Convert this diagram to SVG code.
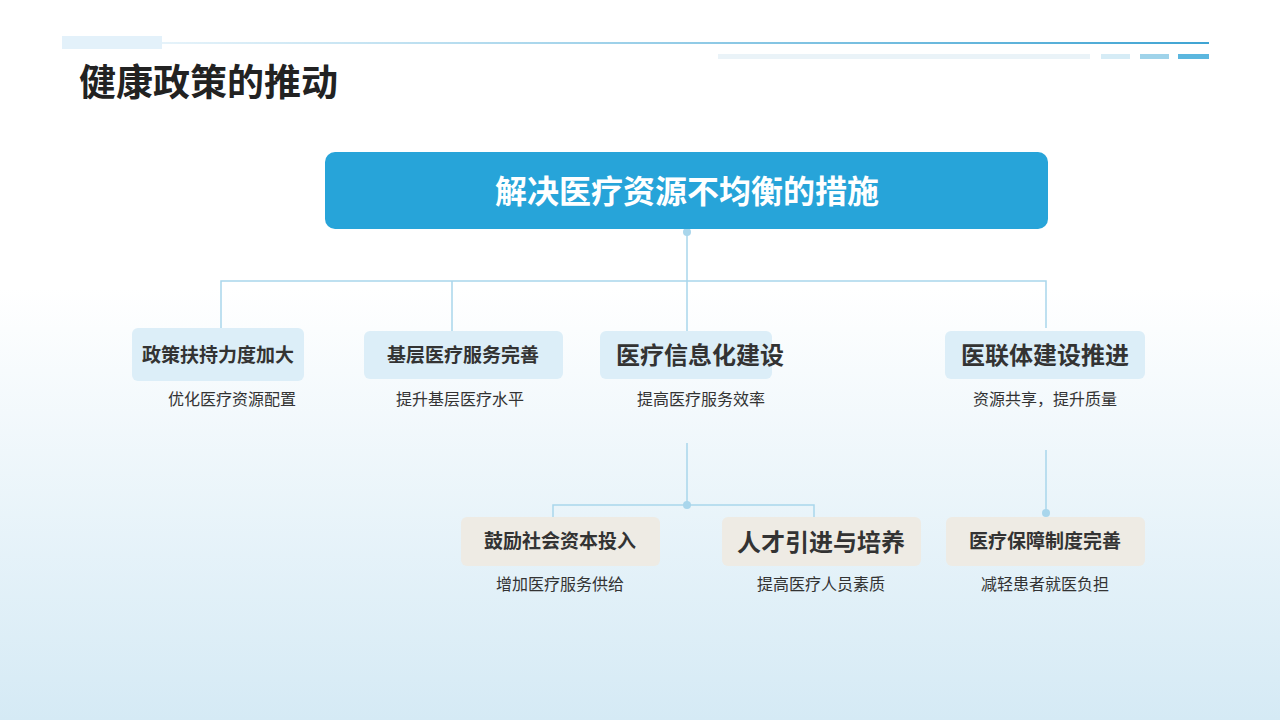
<svg xmlns="http://www.w3.org/2000/svg" width="1280" height="720" viewBox="0 0 1280 720">
<defs>
<linearGradient id="bg" x1="0" y1="0" x2="0" y2="1"><stop offset="0.4" stop-color="#ffffff"/><stop offset="1" stop-color="#d5eaf5"/></linearGradient>
<linearGradient id="hl" x1="0" y1="0" x2="1" y2="0"><stop offset="0" stop-color="#e6f3fa"/><stop offset="1" stop-color="#3fa4d3"/></linearGradient>
<style>
text{font-family:"Noto Sans CJK SC","Noto Sans",sans-serif;text-anchor:middle}
.b1{fill:#dceef8}.b2{fill:#eeebe4}
.t{font-weight:bold;fill:#333}
.s{font-size:16px;fill:#333}
.c{stroke:#a9d6ec;stroke-width:1.5;fill:none}
.d{fill:#a9d6ec}
</style>
</defs>
<rect width="1280" height="720" fill="url(#bg)"/>
<rect x="62" y="36" width="100" height="13" fill="#e3f1fa"/>
<rect x="162" y="42" width="1047" height="2" fill="url(#hl)"/>
<rect x="718" y="54" width="372" height="5" fill="#eaf3f8"/>
<rect x="1101" y="54" width="29" height="5" fill="#d6ecf6"/>
<rect x="1140" y="54" width="29" height="5" fill="#9fd3ea"/>
<rect x="1178" y="54" width="31" height="5" fill="#5bb7df"/>
<text x="79" y="96" style="text-anchor:start;font-size:37px;font-weight:bold;fill:#222">健康政策的推动</text>
<g id="connectors">
<path class="c" d="M687 229V281M221 328V281H1046V328M452 281V331M687 281V331"/>
<circle class="d" cx="687" cy="232" r="4"/>
<path class="c" d="M687 443V505M553 517V505H814V517M1046 450V513"/>
<circle class="d" cx="687" cy="505" r="4"/>
<circle class="d" cx="1046" cy="513" r="4"/>
</g>
<g id="main"><rect x="325" y="152" width="723" height="77" rx="10" fill="#27a4d9"/><text x="687" y="203" style="font-size:32px;font-weight:bold;fill:#fff">解决医疗资源不均衡的措施</text></g>
<g id="n1"><rect class="b1" x="132" y="328" width="172" height="53" rx="6"/><text class="t" x="218" y="362" font-size="19">政策扶持力度加大</text><text class="s" x="232" y="405">优化医疗资源配置</text></g>
<g id="n2"><rect class="b1" x="364" y="331" width="199" height="48" rx="6"/><text class="t" x="463" y="362" font-size="19">基层医疗服务完善</text><text class="s" x="460" y="405">提升基层医疗水平</text></g>
<g id="n3"><rect class="b1" x="600" y="331" width="172" height="48" rx="6"/><text class="t" x="700" y="364" font-size="24">医疗信息化建设</text><text class="s" x="701" y="405">提高医疗服务效率</text></g>
<g id="n4"><rect class="b1" x="945" y="331" width="200" height="48" rx="6"/><text class="t" x="1045" y="364" font-size="24">医联体建设推进</text><text class="s" x="1045" y="405">资源共享，提升质量</text></g>
<g id="n5"><rect class="b2" x="461" y="517" width="199" height="49" rx="6"/><text class="t" x="560" y="548" font-size="19">鼓励社会资本投入</text><text class="s" x="560" y="590">增加医疗服务供给</text></g>
<g id="n6"><rect class="b2" x="722" y="517" width="199" height="49" rx="6"/><text class="t" x="821" y="551" font-size="24">人才引进与培养</text><text class="s" x="821" y="590">提高医疗人员素质</text></g>
<g id="n7"><rect class="b2" x="946" y="517" width="199" height="49" rx="6"/><text class="t" x="1045" y="548" font-size="19">医疗保障制度完善</text><text class="s" x="1045" y="590">减轻患者就医负担</text></g>
</svg>
